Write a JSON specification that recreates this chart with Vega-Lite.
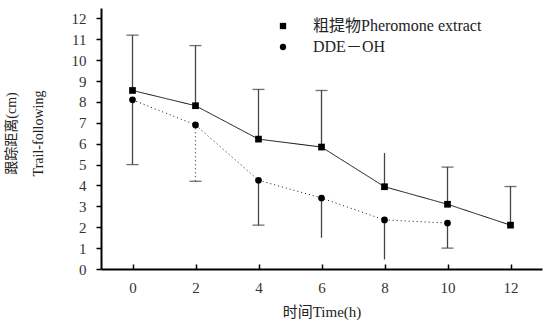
{
  "$schema": "https://vega.github.io/schema/vega-lite/v6.json",
  "width": 441,
  "height": 261,
  "autosize": {"type": "none"},
  "padding": {"left": 101, "top": 8, "right": 2, "bottom": 58},
  "background": "white",
  "config": {
    "view": {"stroke": null},
    "font": "Liberation Serif, Noto Sans CJK SC",
    "axis": {"grid": false, "domainColor": "#000", "domainWidth": 2, "tickColor": "#000", "tickWidth": 1.5, "labelColor": "#333", "labelFont": "Liberation Serif", "labelFontSize": 15, "labelOverlap": false, "labelFlush": false, "titleColor": "#222", "titleFont": "Liberation Serif, Noto Sans CJK SC", "titleFontWeight": "normal"},
    "axisY": {"tickCount": 13, "tickSize": 5, "labelPadding": 10},
    "axisX": {"tickCount": 7, "tickSize": -5, "labelPadding": 16}
  },
  "datasets": {
    "pts": [
      {"series": "粗提物Pheromone extract", "time": 0, "value": 8.55},
      {"series": "粗提物Pheromone extract", "time": 2, "value": 7.82},
      {"series": "粗提物Pheromone extract", "time": 4, "value": 6.22},
      {"series": "粗提物Pheromone extract", "time": 6, "value": 5.84},
      {"series": "粗提物Pheromone extract", "time": 8, "value": 3.94},
      {"series": "粗提物Pheromone extract", "time": 10, "value": 3.1},
      {"series": "粗提物Pheromone extract", "time": 12, "value": 2.1},
      {"series": "DDE－OH", "time": 0, "value": 8.1},
      {"series": "DDE－OH", "time": 2, "value": 6.9},
      {"series": "DDE－OH", "time": 4, "value": 4.25},
      {"series": "DDE－OH", "time": 6, "value": 3.4},
      {"series": "DDE－OH", "time": 8, "value": 2.35},
      {"series": "DDE－OH", "time": 10, "value": 2.2}
    ],
    "errs": [
      {"series": "粗提物Pheromone extract", "time": 0, "lo": 8.55, "hi": 11.2, "style": "solid"},
      {"series": "DDE－OH", "time": 0, "lo": 5.0, "hi": 8.1, "style": "solid"},
      {"series": "粗提物Pheromone extract", "time": 2, "lo": 7.82, "hi": 10.7, "style": "solid"},
      {"series": "DDE－OH", "time": 2, "lo": 4.2, "hi": 6.9, "style": "dotted"},
      {"series": "粗提物Pheromone extract", "time": 4, "lo": 6.22, "hi": 8.6, "style": "solid"},
      {"series": "DDE－OH", "time": 4, "lo": 2.1, "hi": 4.25, "style": "solid"},
      {"series": "粗提物Pheromone extract", "time": 6, "lo": 5.84, "hi": 8.55, "style": "solid"},
      {"series": "DDE－OH", "time": 6, "lo": 1.5, "hi": 3.4, "style": "solid"},
      {"series": "粗提物Pheromone extract", "time": 8, "lo": 3.94, "hi": 5.55, "style": "solid"},
      {"series": "DDE－OH", "time": 8, "lo": 0.45, "hi": 2.35, "style": "solid"},
      {"series": "粗提物Pheromone extract", "time": 10, "lo": 3.1, "hi": 4.88, "style": "solid"},
      {"series": "DDE－OH", "time": 10, "lo": 1.0, "hi": 2.2, "style": "solid"},
      {"series": "粗提物Pheromone extract", "time": 12, "lo": 2.1, "hi": 3.95, "style": "solid"}
    ],
    "caps": [
      {"time": 0, "value": 11.2, "style": "solid"},
      {"time": 2, "value": 10.7, "style": "solid"},
      {"time": 4, "value": 8.6, "style": "solid"},
      {"time": 6, "value": 8.55, "style": "solid"},
      {"time": 10, "value": 4.88, "style": "solid"},
      {"time": 12, "value": 3.95, "style": "solid"},
      {"time": 0, "value": 5.0, "style": "solid"},
      {"time": 2, "value": 4.2, "style": "dotted"},
      {"time": 4, "value": 2.1, "style": "solid"},
      {"time": 10, "value": 1.0, "style": "solid"}
    ]
  },
  "layer": [
    {
      "data": {"name": "errs"},
      "mark": {"type": "rule", "color": "#444", "strokeWidth": 1.3},
      "encoding": {
        "x": {
          "field": "time", "type": "quantitative",
          "scale": {"domain": [-1, 13], "nice": false, "zero": false},
          "axis": {"values": [0, 2, 4, 6, 8, 10, 12], "tickCount": 7, "title": "时间Time(h)", "titleFontSize": 15, "titlePadding": 9}
        },
        "y": {
          "field": "lo", "type": "quantitative",
          "scale": {"domain": [0, 12.5], "nice": false},
          "axis": {"values": [0, 1, 2, 3, 4, 5, 6, 7, 8, 9, 10, 11, 12], "tickCount": 13, "title": ["跟踪距离(cm)", "Trail-following"], "titleFontSize": 14, "titlePadding": 26, "titleY": 125, "titleLineHeight": 27}
        },
        "y2": {"field": "hi"},
        "strokeDash": {"field": "style", "type": "nominal", "scale": {"domain": ["solid", "dotted"], "range": [[1, 0], [1, 3]]}, "legend": null}
      }
    },
    {
      "data": {"name": "caps"},
      "mark": {"type": "tick", "orient": "horizontal", "color": "#333", "size": 12, "thickness": 1.3},
      "encoding": {
        "x": {"field": "time", "type": "quantitative"},
        "y": {"field": "value", "type": "quantitative"},
        "strokeDash": {"field": "style", "type": "nominal", "scale": {"domain": ["solid", "dotted"], "range": [[1, 0], [1, 3]]}, "legend": null}
      }
    },
    {
      "data": {"name": "pts"},
      "mark": {"type": "line", "color": "#111", "strokeWidth": 1},
      "encoding": {
        "x": {"field": "time", "type": "quantitative"},
        "y": {"field": "value", "type": "quantitative"},
        "detail": {"field": "series"},
        "strokeDash": {"field": "series", "type": "nominal", "scale": {"domain": ["粗提物Pheromone extract", "DDE－OH"], "range": [[6, 0.5], [1, 4]]}, "legend": null}
      }
    },
    {
      "data": {"name": "pts"},
      "mark": {"type": "point", "filled": true, "color": "#000", "opacity": 1},
      "encoding": {
        "x": {"field": "time", "type": "quantitative"},
        "y": {"field": "value", "type": "quantitative"},
        "shape": {
          "field": "series", "type": "nominal",
          "scale": {"domain": ["粗提物Pheromone extract", "DDE－OH"], "range": ["square", "circle"]},
          "legend": {"title": null, "orient": "none", "legendX": 174, "legendY": 10, "labelFont": "Liberation Serif, Noto Sans CJK SC", "labelFontSize": 16, "labelLimit": 400, "labelColor": "#222", "symbolSize": 40, "symbolFillColor": "#000", "symbolStrokeColor": "#000", "rowPadding": 5, "labelOffset": 22}
        },
        "size": {"value": 45}
      }
    }
  ]
}
